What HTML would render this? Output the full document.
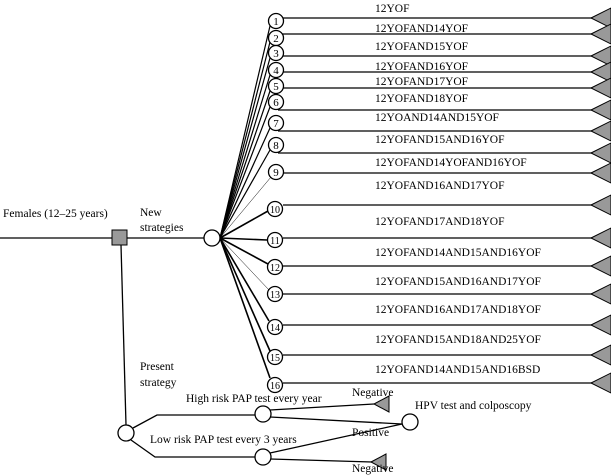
<!DOCTYPE html>
<html><head><meta charset="utf-8"><style>
html,body{margin:0;padding:0;background:#fff;}
svg{display:block;}
text{font-family:"Liberation Serif",serif;font-size:11.5px;fill:#000;}
.n{font-size:11px;text-anchor:middle;}
</style></head><body>
<svg width="611" height="475" viewBox="0 0 611 475" xmlns="http://www.w3.org/2000/svg">
<g stroke="#000" stroke-width="1.3" fill="none">
<line x1="0" y1="238" x2="204" y2="238"/>
<line x1="220" y1="238" x2="270" y2="26" stroke-width="1.2"/>
<line x1="220" y1="238" x2="270" y2="42" stroke-width="1.2"/>
<line x1="220" y1="238" x2="270" y2="58" stroke-width="1.2"/>
<line x1="220" y1="238" x2="270" y2="75" stroke-width="1.2"/>
<line x1="220" y1="238" x2="270" y2="91" stroke-width="1.2"/>
<line x1="220" y1="238" x2="270" y2="107" stroke-width="1.2"/>
<line x1="220" y1="238" x2="270" y2="128" stroke-width="1.2"/>
<line x1="220" y1="238" x2="270" y2="150" stroke-width="1.2"/>
<line x1="220" y1="238" x2="271" y2="177" stroke-width="0.5"/>
<line x1="220" y1="238" x2="268" y2="211" stroke-width="1.6"/>
<line x1="220" y1="238" x2="267" y2="240" stroke-width="1.6"/>
<line x1="220" y1="238" x2="268" y2="264" stroke-width="1.6"/>
<line x1="220" y1="238" x2="269" y2="290" stroke-width="0.5"/>
<line x1="220" y1="238" x2="269" y2="321" stroke-width="1.6"/>
<line x1="220" y1="238" x2="270" y2="351" stroke-width="1.6"/>
<line x1="220" y1="238" x2="270" y2="378" stroke-width="1.6"/>
<line x1="282" y1="18" x2="592" y2="18"/>
<line x1="282" y1="34" x2="592" y2="34"/>
<line x1="282" y1="56" x2="592" y2="56"/>
<line x1="282" y1="72" x2="592" y2="72"/>
<line x1="282" y1="88" x2="592" y2="88"/>
<line x1="278" y1="110" x2="592" y2="110"/>
<line x1="278" y1="131" x2="592" y2="131"/>
<line x1="278" y1="153" x2="592" y2="153"/>
<line x1="283" y1="173" x2="592" y2="173"/>
<line x1="283" y1="205" x2="592" y2="205"/>
<line x1="283" y1="238" x2="592" y2="238"/>
<line x1="283" y1="266" x2="592" y2="266"/>
<line x1="283" y1="294" x2="592" y2="294"/>
<line x1="283" y1="325" x2="592" y2="325"/>
<line x1="283" y1="355" x2="592" y2="355"/>
<line x1="283" y1="383" x2="592" y2="383"/>
<line x1="121" y1="245" x2="126" y2="425"/>
<polyline points="133,428 157,415 263,415"/>
<polyline points="131,440 155,457 263,457"/>
<line x1="270" y1="410" x2="374" y2="404"/>
<line x1="270" y1="417" x2="402" y2="424"/>
<line x1="270" y1="453" x2="402" y2="424"/>
<line x1="270" y1="459" x2="372" y2="462"/>
</g>
<g fill="#999" stroke="#000" stroke-width="1">
<polygon points="591,18 611,8 611,28"/>
<polygon points="591,34 611,24 611,44"/>
<polygon points="591,56 611,46 611,66"/>
<polygon points="591,72 611,62 611,82"/>
<polygon points="591,88 611,78 611,98"/>
<polygon points="591,110 611,100 611,120"/>
<polygon points="591,131 611,121 611,141"/>
<polygon points="591,153 611,143 611,163"/>
<polygon points="591,173 611,163 611,183"/>
<polygon points="591,205 611,195 611,215"/>
<polygon points="591,238 611,228 611,248"/>
<polygon points="591,266 611,256 611,276"/>
<polygon points="591,294 611,284 611,304"/>
<polygon points="591,325 611,315 611,335"/>
<polygon points="591,355 611,345 611,365"/>
<polygon points="591,383 611,373 611,393"/>
<polygon points="374,404 389,396 389,412"/>
<polygon points="371,462 386,454 386,470"/>
<rect x="112" y="230" width="15" height="15"/>
</g>
<g fill="#fff" stroke="#000" stroke-width="1.3">
<circle cx="212" cy="238" r="8"/>
<circle cx="126" cy="433" r="8"/>
<circle cx="263" cy="414" r="8"/>
<circle cx="263" cy="457" r="8"/>
<circle cx="410" cy="422" r="8"/>
<circle cx="276" cy="21" r="7.5"/>
<circle cx="276" cy="38" r="7.5"/>
<circle cx="276" cy="53" r="7.5"/>
<circle cx="276" cy="70" r="7.5"/>
<circle cx="276" cy="86" r="7.5"/>
<circle cx="276" cy="102" r="7.5"/>
<circle cx="276" cy="123" r="7.5"/>
<circle cx="276" cy="145" r="7.5"/>
<circle cx="276" cy="172" r="7.5"/>
<circle cx="275" cy="209" r="7.5"/>
<circle cx="275" cy="240" r="7.5"/>
<circle cx="275" cy="267" r="7.5"/>
<circle cx="275" cy="294" r="7.5"/>
<circle cx="275" cy="327" r="7.5"/>
<circle cx="275" cy="357" r="7.5"/>
<circle cx="275" cy="385" r="7.5"/>
</g>
<g>
<text class="n" x="276" y="25">1</text>
<text class="n" x="276" y="42">2</text>
<text class="n" x="276" y="57">3</text>
<text class="n" x="276" y="74">4</text>
<text class="n" x="276" y="90">5</text>
<text class="n" x="276" y="106">6</text>
<text class="n" x="276" y="127">7</text>
<text class="n" x="276" y="149">8</text>
<text class="n" x="276" y="176">9</text>
<text class="n" x="275" y="213" style="font-size:10px">10</text>
<text class="n" x="275" y="244" style="font-size:10px">11</text>
<text class="n" x="275" y="271" style="font-size:10px">12</text>
<text class="n" x="275" y="298" style="font-size:10px">13</text>
<text class="n" x="275" y="331" style="font-size:10px">14</text>
<text class="n" x="275" y="361" style="font-size:10px">15</text>
<text class="n" x="275" y="389" style="font-size:10px">16</text>
</g>
<g>
<text x="375" y="12">12YOF</text>
<text x="375" y="32">12YOFAND14YOF</text>
<text x="375" y="50">12YOFAND15YOF</text>
<text x="375" y="70">12YOFAND16YOF</text>
<text x="375" y="85">12YOFAND17YOF</text>
<text x="375" y="102">12YOFAND18YOF</text>
<text x="375" y="121">12YOAND14AND15YOF</text>
<text x="375" y="143">12YOFAND15AND16YOF</text>
<text x="375" y="166">12YOFAND14YOFAND16YOF</text>
<text x="375" y="189">12YOFAND16AND17YOF</text>
<text x="375" y="225">12YOFAND17AND18YOF</text>
<text x="375" y="256">12YOFAND14AND15AND16YOF</text>
<text x="375" y="285">12YOFAND15AND16AND17YOF</text>
<text x="375" y="313">12YOFAND16AND17AND18YOF</text>
<text x="375" y="343">12YOFAND15AND18AND25YOF</text>
<text x="375" y="373">12YOFAND14AND15AND16BSD</text>
<text x="3" y="217">Females (12–25 years)</text>
<text x="140" y="216">New</text>
<text x="140" y="231">strategies</text>
<text x="140" y="370">Present</text>
<text x="140" y="386">strategy</text>
<text x="186" y="402">High risk PAP test every year</text>
<text x="352" y="396">Negative</text>
<text x="415" y="409">HPV test and colposcopy</text>
<text x="150" y="443">Low risk PAP test every 3 years</text>
<text x="352" y="436">Positive</text>
<text x="352" y="472">Negative</text>
</g>
</svg>
</body></html>
